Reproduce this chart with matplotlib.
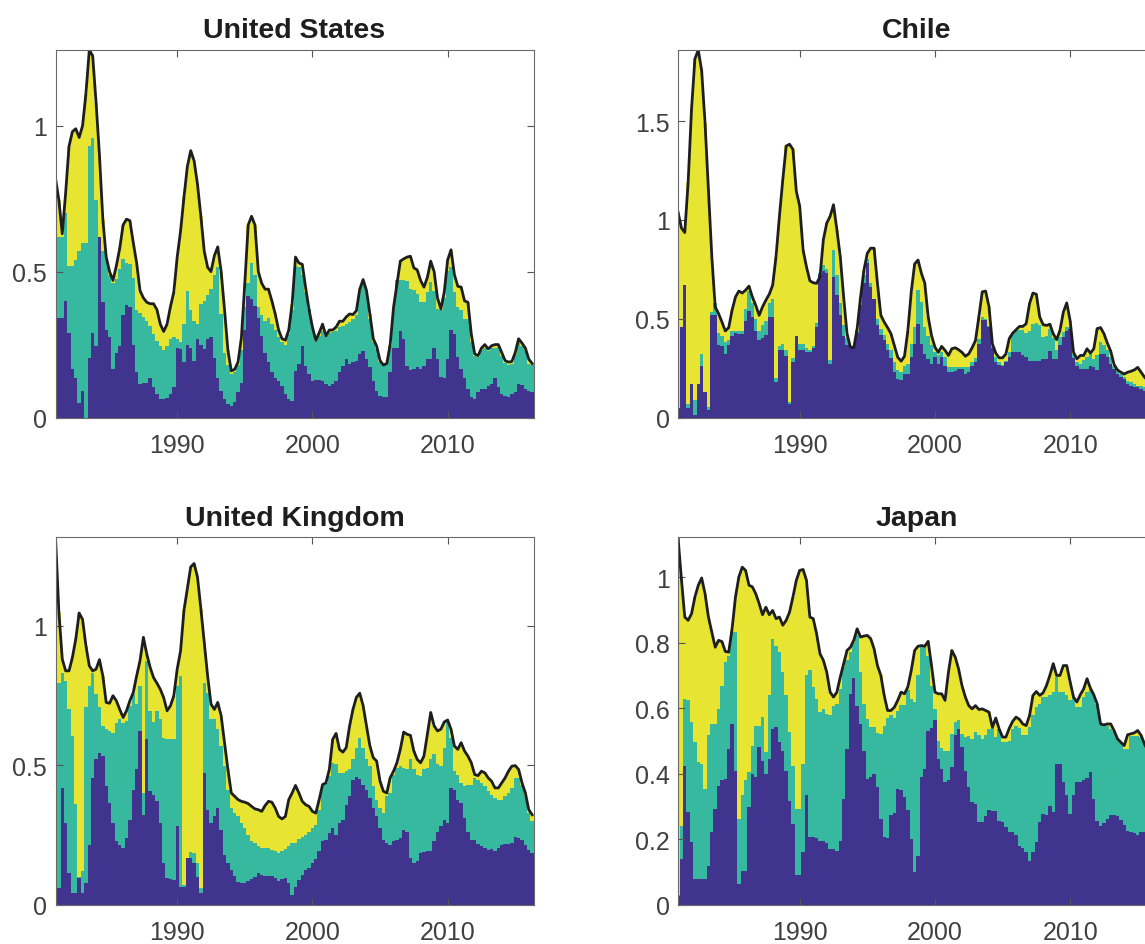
import numpy as np
import matplotlib

matplotlib.use("Agg")
import matplotlib.pyplot as plt  # noqa: E402

plt.rcParams["font.family"] = ["Liberation Sans", "DejaVu Sans"]

# quarterly observations, 1981Q1 .. 2016Q2
dates = 1981.0 + 0.25 * np.arange(142)

# cumulative levels: top of dark layer, top of teal layer, total (black line)
us_blue = [
    0.15, 0.34, 0.34, 0.40, 0.29, 0.166, 0.137, 0.05, 0.09, 0.0,
    0.205, 0.29, 0.245, 0.62, 0.395, 0.30, 0.275, 0.166, 0.22, 0.245,
    0.35, 0.385, 0.38, 0.25, 0.155, 0.115, 0.117, 0.12, 0.135, 0.103,
    0.082, 0.063, 0.063, 0.066, 0.082, 0.103, 0.24, 0.235, 0.19, 0.25,
    0.24, 0.195, 0.27, 0.25, 0.235, 0.27, 0.275, 0.205, 0.137, 0.092,
    0.063, 0.048, 0.04, 0.052, 0.086, 0.12, 0.30, 0.415, 0.407, 0.384,
    0.34, 0.28, 0.22, 0.19, 0.155, 0.137, 0.126, 0.109, 0.082, 0.063,
    0.057, 0.16, 0.183, 0.246, 0.178, 0.15, 0.124, 0.128, 0.128, 0.126,
    0.115, 0.109, 0.115, 0.126, 0.155, 0.178, 0.2, 0.183, 0.19, 0.195,
    0.218, 0.227, 0.2, 0.172, 0.126, 0.092, 0.074, 0.069, 0.07, 0.155,
    0.238, 0.238, 0.298, 0.27, 0.178, 0.163, 0.166, 0.174, 0.166, 0.178,
    0.2, 0.2, 0.24, 0.2, 0.14, 0.134, 0.2, 0.30, 0.286, 0.206,
    0.166, 0.137, 0.097, 0.069, 0.063, 0.086, 0.097, 0.097, 0.109, 0.115,
    0.137, 0.103, 0.08, 0.074, 0.071, 0.082, 0.086, 0.115, 0.113, 0.097,
    0.092, 0.086,
]
us_teal = [
    0.63, 0.62, 0.62, 0.70, 0.52, 0.52, 0.54, 0.57, 0.60, 0.60,
    0.93, 0.96, 0.745, 0.62, 0.57, 0.54, 0.49, 0.46, 0.475, 0.51,
    0.545, 0.53, 0.527, 0.48, 0.37, 0.36, 0.345, 0.33, 0.315, 0.285,
    0.263, 0.245, 0.23, 0.245, 0.27, 0.277, 0.27, 0.258, 0.32, 0.435,
    0.367, 0.33, 0.32, 0.39, 0.40, 0.42, 0.44, 0.49, 0.515, 0.355,
    0.22, 0.18, 0.15, 0.155, 0.18, 0.23, 0.38, 0.46, 0.53, 0.49,
    0.38, 0.35, 0.33, 0.34, 0.32, 0.30, 0.275, 0.258, 0.25, 0.286,
    0.37, 0.52, 0.515, 0.49, 0.43, 0.372, 0.31, 0.263, 0.28, 0.295,
    0.28, 0.29, 0.294, 0.298, 0.31, 0.315, 0.32, 0.326, 0.338, 0.35,
    0.43, 0.464, 0.43, 0.338, 0.258, 0.235, 0.19, 0.178, 0.18, 0.246,
    0.372, 0.47, 0.473, 0.47, 0.467, 0.44, 0.438, 0.424, 0.395, 0.395,
    0.43, 0.464, 0.435, 0.372, 0.367, 0.41, 0.504, 0.515, 0.43, 0.378,
    0.367, 0.338, 0.338, 0.258, 0.21, 0.206, 0.233, 0.238, 0.227, 0.24,
    0.24, 0.243, 0.212, 0.187, 0.18, 0.185, 0.218, 0.263, 0.246, 0.23,
    0.183, 0.18,
]
us_total = [
    0.82, 0.745, 0.63, 0.77, 0.93, 0.98, 0.99, 0.96, 1.0, 1.11,
    1.26, 1.24, 1.08, 0.90, 0.68, 0.55, 0.50, 0.47, 0.52, 0.58,
    0.66, 0.68, 0.675, 0.60, 0.53, 0.435, 0.41, 0.395, 0.39, 0.39,
    0.37, 0.32, 0.295, 0.32, 0.38, 0.43, 0.55, 0.64, 0.755, 0.86,
    0.915, 0.88, 0.80, 0.69, 0.57, 0.515, 0.50, 0.555, 0.585, 0.50,
    0.37, 0.23, 0.16, 0.165, 0.19, 0.275, 0.46, 0.66, 0.69, 0.66,
    0.50, 0.46, 0.44, 0.44, 0.40, 0.355, 0.30, 0.27, 0.265, 0.30,
    0.39, 0.55, 0.53, 0.525, 0.445, 0.37, 0.31, 0.265, 0.29, 0.32,
    0.28, 0.30, 0.30, 0.31, 0.33, 0.33, 0.345, 0.355, 0.353, 0.366,
    0.44, 0.473, 0.435, 0.355, 0.27, 0.245, 0.195, 0.18, 0.185, 0.25,
    0.378, 0.458, 0.536, 0.544, 0.55, 0.553, 0.513, 0.506, 0.47, 0.447,
    0.48, 0.536, 0.50, 0.41, 0.372, 0.43, 0.54, 0.575, 0.49, 0.45,
    0.447, 0.40, 0.395, 0.286, 0.218, 0.212, 0.238, 0.25, 0.235, 0.246,
    0.25, 0.25, 0.223, 0.195, 0.19, 0.192, 0.223, 0.27, 0.255, 0.238,
    0.20, 0.185,
]

chile_blue = [
    0.05, 0.46, 0.67, 0.05, 0.17, 0.015, 0.17, 0.26, 0.13, 0.04,
    0.52, 0.52, 0.365, 0.36, 0.32, 0.365, 0.41, 0.43, 0.425, 0.425,
    0.49, 0.54, 0.51, 0.44, 0.39, 0.40, 0.42, 0.51, 0.51, 0.18,
    0.34, 0.34, 0.31, 0.07, 0.28, 0.41, 0.34, 0.34, 0.33, 0.33,
    0.35, 0.46, 0.72, 0.74, 0.73, 0.27, 0.71, 0.62, 0.52, 0.415,
    0.365, 0.35, 0.35, 0.43, 0.57, 0.68, 0.78, 0.66, 0.60, 0.47,
    0.42, 0.39, 0.34, 0.30, 0.23, 0.195, 0.19, 0.22, 0.22, 0.305,
    0.373, 0.475, 0.373, 0.322, 0.297, 0.27, 0.305, 0.27, 0.305, 0.263,
    0.229, 0.229, 0.237, 0.246, 0.246, 0.22, 0.229, 0.263, 0.28, 0.373,
    0.495, 0.495, 0.458, 0.35, 0.28, 0.268, 0.263, 0.28, 0.305, 0.33,
    0.33, 0.33, 0.314, 0.305, 0.285, 0.285, 0.288, 0.288, 0.297, 0.297,
    0.339, 0.297, 0.297, 0.365, 0.407, 0.44, 0.45, 0.30, 0.263, 0.246,
    0.246, 0.246, 0.263, 0.254, 0.24, 0.322, 0.322, 0.305, 0.271, 0.246,
    0.22, 0.204, 0.195, 0.17, 0.161, 0.153, 0.153, 0.144, 0.136, 0.127,
    0.12, 0.115,
]
chile_teal = [
    0.05, 0.46, 0.67, 0.07, 0.17, 0.09, 0.17, 0.32, 0.13, 0.055,
    0.535, 0.58, 0.43, 0.415, 0.38, 0.39, 0.44, 0.44, 0.44, 0.44,
    0.55, 0.64, 0.58, 0.50, 0.44, 0.47, 0.49, 0.58, 0.60, 0.20,
    0.36, 0.37, 0.34, 0.08, 0.30, 0.41, 0.37, 0.37, 0.35, 0.34,
    0.36, 0.48, 0.73, 0.77, 0.75, 0.29, 0.85, 0.72, 0.58, 0.47,
    0.40, 0.35, 0.35, 0.44, 0.60, 0.72, 0.80, 0.68, 0.60, 0.50,
    0.45, 0.42, 0.37, 0.34, 0.28, 0.24, 0.23, 0.26, 0.27, 0.373,
    0.458, 0.645, 0.585, 0.458, 0.415, 0.365, 0.33, 0.314, 0.33, 0.305,
    0.254, 0.254, 0.254, 0.254, 0.254, 0.254, 0.254, 0.28, 0.30, 0.398,
    0.51, 0.50, 0.465, 0.36, 0.305, 0.28, 0.268, 0.288, 0.33, 0.424,
    0.441, 0.441, 0.441, 0.428, 0.438, 0.475, 0.478, 0.466, 0.407, 0.415,
    0.45, 0.40, 0.34, 0.407, 0.432, 0.458, 0.458, 0.32, 0.28, 0.271,
    0.292, 0.305, 0.32, 0.297, 0.314, 0.382, 0.365, 0.34, 0.305, 0.26,
    0.235, 0.22, 0.204, 0.187, 0.178, 0.17, 0.161, 0.161, 0.153, 0.136,
    0.13, 0.125,
]
chile_total = [
    1.04, 0.96, 0.936, 1.19, 1.56, 1.815, 1.86, 1.755, 1.49, 1.155,
    0.815, 0.56, 0.526, 0.483, 0.438, 0.455, 0.543, 0.61, 0.64, 0.63,
    0.645, 0.665, 0.61, 0.568, 0.517, 0.56, 0.594, 0.624, 0.67, 0.814,
    1.018, 1.204, 1.374, 1.383, 1.357, 1.145, 1.07, 0.848, 0.763, 0.692,
    0.682, 0.679, 0.712, 0.90, 0.984, 1.018, 1.077, 0.95, 0.814, 0.61,
    0.424, 0.356, 0.353, 0.45, 0.61, 0.746, 0.831, 0.857, 0.857, 0.679,
    0.517, 0.483, 0.455, 0.424, 0.365, 0.305, 0.285, 0.31, 0.44, 0.636,
    0.777, 0.797, 0.73, 0.68, 0.51, 0.415, 0.356, 0.33, 0.36, 0.34,
    0.314, 0.348, 0.353, 0.343, 0.33, 0.31, 0.322, 0.353, 0.39, 0.51,
    0.636, 0.64, 0.56, 0.373, 0.326, 0.302, 0.302, 0.322, 0.40, 0.427,
    0.444, 0.461, 0.461, 0.475, 0.577, 0.63, 0.624, 0.509, 0.47, 0.466,
    0.472, 0.424, 0.394, 0.441, 0.534, 0.58, 0.49, 0.33, 0.297, 0.314,
    0.314, 0.348, 0.326, 0.348, 0.45, 0.455, 0.424, 0.377, 0.336, 0.268,
    0.241, 0.229, 0.22, 0.229, 0.234, 0.241, 0.254, 0.229, 0.204, 0.187,
    0.18, 0.175,
]

uk_blue = [
    0.108, 0.06, 0.42, 0.293, 0.114, 0.042, 0.042, 0.096, 0.042, 0.078,
    0.216, 0.455, 0.521, 0.545, 0.533, 0.425, 0.365, 0.293, 0.228, 0.216,
    0.204, 0.24, 0.305, 0.413, 0.485, 0.623, 0.323, 0.593, 0.407, 0.395,
    0.371, 0.293, 0.15, 0.096, 0.093, 0.09, 0.281, 0.066, 0.066, 0.168,
    0.168, 0.15, 0.10, 0.042, 0.473, 0.341, 0.293, 0.317, 0.347, 0.269,
    0.18, 0.15, 0.126, 0.102, 0.084, 0.078, 0.08, 0.087, 0.092, 0.10,
    0.114, 0.108, 0.102, 0.102, 0.102, 0.096, 0.087, 0.092, 0.096, 0.078,
    0.036, 0.066, 0.09, 0.108, 0.126, 0.132, 0.15, 0.164, 0.192, 0.228,
    0.234, 0.257, 0.275, 0.251, 0.293, 0.305, 0.359, 0.389, 0.449, 0.459,
    0.451, 0.431, 0.413, 0.383, 0.347, 0.317, 0.275, 0.234, 0.222, 0.216,
    0.228, 0.234, 0.24, 0.269, 0.263, 0.168, 0.15, 0.156, 0.186, 0.19,
    0.192, 0.192, 0.228, 0.263, 0.281, 0.305, 0.293, 0.419, 0.413, 0.377,
    0.365, 0.311, 0.263, 0.234, 0.232, 0.219, 0.21, 0.204, 0.198, 0.2,
    0.195, 0.204, 0.216, 0.22, 0.218, 0.222, 0.243, 0.24, 0.234, 0.216,
    0.198, 0.186,
]
uk_teal = [
    0.14, 0.796, 0.832, 0.80, 0.70, 0.605, 0.36, 0.10, 0.12, 0.707,
    0.784, 0.832, 0.754, 0.707, 0.64, 0.629, 0.623, 0.614, 0.653, 0.665,
    0.653, 0.66, 0.713, 0.754, 0.72, 0.784, 0.40, 0.874, 0.695, 0.655,
    0.695, 0.665, 0.599, 0.593, 0.593, 0.593, 0.784, 0.82, 0.072, 0.168,
    0.19, 0.186, 0.15, 0.06, 0.796, 0.76, 0.665, 0.665, 0.629, 0.569,
    0.497, 0.413, 0.347, 0.329, 0.317, 0.293, 0.275, 0.251, 0.228, 0.222,
    0.21, 0.204, 0.204, 0.204, 0.198, 0.192, 0.186, 0.192, 0.20, 0.21,
    0.222, 0.222, 0.236, 0.245, 0.251, 0.263, 0.275, 0.287, 0.341, 0.431,
    0.437, 0.461, 0.509, 0.503, 0.473, 0.473, 0.479, 0.485, 0.521, 0.563,
    0.599, 0.563, 0.521, 0.497, 0.425, 0.377, 0.347, 0.33, 0.39, 0.40,
    0.467, 0.491, 0.497, 0.491, 0.485, 0.521, 0.485, 0.467, 0.461, 0.485,
    0.491, 0.521, 0.539, 0.503, 0.497, 0.563, 0.659, 0.599, 0.479, 0.467,
    0.437, 0.425, 0.43, 0.43, 0.455, 0.449, 0.437, 0.425, 0.407, 0.395,
    0.383, 0.375, 0.377, 0.389, 0.401, 0.419, 0.455, 0.455, 0.43, 0.389,
    0.33, 0.30,
]
uk_total = [
    1.317, 1.048, 0.88, 0.838, 0.838, 0.886, 0.952, 1.045, 1.022, 0.928,
    0.856, 0.838, 0.844, 0.878, 0.82, 0.725, 0.722, 0.749, 0.731, 0.70,
    0.671, 0.695, 0.731, 0.76, 0.82, 0.874, 0.958, 0.898, 0.85, 0.814,
    0.794, 0.772, 0.742, 0.695, 0.713, 0.749, 0.844, 0.91, 1.054, 1.132,
    1.21, 1.222, 1.174, 1.06, 0.94, 0.82, 0.719, 0.70, 0.725, 0.677,
    0.581, 0.485, 0.401, 0.389, 0.377, 0.371, 0.368, 0.363, 0.353, 0.344,
    0.341, 0.335, 0.356, 0.371, 0.368, 0.347, 0.317, 0.308, 0.317, 0.377,
    0.401, 0.428, 0.401, 0.371, 0.359, 0.353, 0.335, 0.329, 0.377, 0.431,
    0.437, 0.485, 0.593, 0.614, 0.557, 0.547, 0.563, 0.641, 0.70, 0.743,
    0.758, 0.713, 0.641, 0.569, 0.527, 0.515, 0.443, 0.407, 0.401, 0.455,
    0.479, 0.509, 0.557, 0.619, 0.611, 0.607, 0.551, 0.521, 0.509, 0.533,
    0.611, 0.689, 0.641, 0.623, 0.629, 0.655, 0.662, 0.629, 0.569, 0.557,
    0.581, 0.551, 0.533, 0.509, 0.467, 0.463, 0.479, 0.473, 0.455, 0.443,
    0.419, 0.419, 0.437, 0.455, 0.479, 0.497, 0.499, 0.485, 0.437, 0.401,
    0.341, 0.323,
]

japan_blue = [
    0.028, 0.14, 0.425, 0.283, 0.191, 0.08, 0.08, 0.08, 0.08, 0.12,
    0.222, 0.293, 0.364, 0.38, 0.385, 0.476, 0.552, 0.41, 0.064, 0.105,
    0.105, 0.298, 0.40, 0.39, 0.481, 0.44, 0.40, 0.446, 0.537, 0.542,
    0.496, 0.471, 0.41, 0.318, 0.247, 0.09, 0.09, 0.161, 0.334, 0.207,
    0.207, 0.205, 0.196, 0.194, 0.19, 0.171, 0.171, 0.166, 0.196, 0.323,
    0.476, 0.644, 0.692, 0.608, 0.552, 0.47, 0.385, 0.39, 0.40, 0.359,
    0.262, 0.207, 0.205, 0.273, 0.28, 0.354, 0.35, 0.329, 0.29, 0.201,
    0.10, 0.15, 0.39, 0.415, 0.532, 0.539, 0.563, 0.446, 0.415, 0.374,
    0.38, 0.42, 0.517, 0.537, 0.481, 0.41, 0.359, 0.313, 0.308, 0.252,
    0.252, 0.271, 0.29, 0.288, 0.288, 0.257, 0.252, 0.237, 0.224, 0.222,
    0.212, 0.181, 0.173, 0.161, 0.135, 0.161, 0.191, 0.252, 0.278, 0.275,
    0.301, 0.285, 0.43, 0.43, 0.374, 0.334, 0.278, 0.334, 0.374, 0.374,
    0.38, 0.387, 0.405, 0.323, 0.257, 0.242, 0.25, 0.262, 0.273, 0.275,
    0.27, 0.26, 0.244, 0.227, 0.222, 0.22, 0.214, 0.222, 0.224, 0.216,
    0.215, 0.21,
]
japan_teal = [
    0.03, 0.242, 0.629, 0.624, 0.557, 0.496, 0.435, 0.43, 0.354, 0.517,
    0.552, 0.552, 0.598, 0.669, 0.74, 0.76, 0.832, 0.832, 0.262, 0.334,
    0.38, 0.405, 0.486, 0.547, 0.547, 0.573, 0.466, 0.639, 0.812, 0.79,
    0.771, 0.71, 0.639, 0.527, 0.425, 0.293, 0.293, 0.43, 0.70, 0.715,
    0.664, 0.629, 0.588, 0.598, 0.583, 0.578, 0.608, 0.613, 0.659, 0.725,
    0.746, 0.77, 0.80, 0.822, 0.71, 0.613, 0.568, 0.542, 0.542, 0.525,
    0.522, 0.547, 0.57, 0.58, 0.57, 0.59, 0.61, 0.61, 0.654, 0.629,
    0.619, 0.70, 0.786, 0.786, 0.76, 0.669, 0.598, 0.50, 0.48, 0.47,
    0.47, 0.52, 0.557, 0.563, 0.522, 0.512, 0.515, 0.507, 0.527, 0.517,
    0.507, 0.519, 0.537, 0.542, 0.512, 0.537, 0.496, 0.496, 0.50, 0.537,
    0.547, 0.54, 0.519, 0.517, 0.542, 0.578, 0.603, 0.613, 0.634, 0.634,
    0.639, 0.649, 0.695, 0.649, 0.649, 0.639, 0.624, 0.63, 0.603, 0.603,
    0.634, 0.649, 0.66, 0.641, 0.613, 0.55, 0.545, 0.545, 0.537, 0.532,
    0.507, 0.496, 0.476, 0.476, 0.515, 0.515, 0.515, 0.512, 0.491, 0.47,
    0.455, 0.445,
]
japan_total = [
    1.122, 0.995, 0.878, 0.868, 0.888, 0.939, 0.975, 0.997, 0.949, 0.878,
    0.832, 0.786, 0.807, 0.803, 0.773, 0.771, 0.842, 0.939, 1.0, 1.03,
    1.02, 0.975, 0.97, 0.949, 0.919, 0.885, 0.908, 0.885, 0.898, 0.873,
    0.878, 0.853, 0.868, 0.893, 0.939, 0.99, 1.02, 1.023, 0.99, 0.878,
    0.873, 0.827, 0.766, 0.746, 0.71, 0.649, 0.634, 0.649, 0.695, 0.736,
    0.776, 0.786, 0.807, 0.842, 0.817, 0.82, 0.822, 0.812, 0.781, 0.73,
    0.70, 0.639, 0.593, 0.593, 0.603, 0.624, 0.649, 0.644, 0.665, 0.715,
    0.776, 0.789, 0.791, 0.789, 0.804, 0.73, 0.649, 0.644, 0.644, 0.624,
    0.71, 0.776, 0.756, 0.72, 0.669, 0.634, 0.608, 0.598, 0.608, 0.596,
    0.598, 0.593, 0.588, 0.542, 0.57, 0.537, 0.512, 0.512, 0.539, 0.56,
    0.573, 0.566, 0.552, 0.547, 0.578, 0.639, 0.651, 0.639, 0.647, 0.669,
    0.70, 0.736, 0.70, 0.70, 0.73, 0.73, 0.68, 0.634, 0.619, 0.641,
    0.659, 0.69, 0.661, 0.641, 0.613, 0.552, 0.549, 0.552, 0.552, 0.532,
    0.507, 0.496, 0.486, 0.519, 0.522, 0.525, 0.532, 0.517, 0.491, 0.47,
    0.46, 0.45,
]

COL_BLUE = "#40348f"
COL_TEAL = "#36b99f"
COL_YELLOW = "#e7e532"
TEXT = "#404040"

panels = [
    ("United States", us_blue, us_teal, us_total, [0, 0.5, 1], [55.5, 51, 418.5]),
    ("Chile", chile_blue, chile_teal, chile_total, [0, 0.5, 1, 1.5], [678, 51, 418.5]),
    ("United Kingdom", uk_blue, uk_teal, uk_total, [0, 0.5, 1], [55.5, 538, 906]),
    ("Japan", japan_blue, japan_teal, japan_total, [0, 0.2, 0.4, 0.6, 0.8, 1], [678, 538, 906]),
]

W, H = 1145, 945
fig = plt.figure(figsize=(W / 100, H / 100), dpi=100)

for title, blue, teal, total, yticks, (px_left, px_top, px_bot) in panels:
    ax = fig.add_axes([px_left / W, 1 - px_bot / H, 478 / W, (px_bot - px_top) / H])
    blue = np.array(blue)
    teal = np.maximum(np.array(teal), blue)
    total = np.array(total)

    layers = [
        (blue, np.zeros_like(blue), COL_BLUE),
        (teal - blue, blue, COL_TEAL),
        (np.clip(total - teal, 0, None), teal, COL_YELLOW),
    ]
    for height, bottom, col in layers:
        ax.bar(dates, height, width=0.25, bottom=bottom, color=col,
               linewidth=0, antialiased=False)
    ax.plot(dates, total, color="#1e1e1e", lw=2.0, solid_joinstyle="round")

    ax.set_xlim(dates[0], dates[-1] + 0.1)
    ax.set_ylim(0, total.max())
    ax.set_xticks([1990, 2000, 2010])
    ax.set_yticks(yticks)
    ax.set_yticklabels([f"{v:g}" for v in yticks])
    ax.tick_params(direction="in", length=5, width=0.8, color="#555555",
                   top=True, right=True, labelsize=18, labelcolor=TEXT)
    ax.tick_params(axis="x", pad=11)
    ax.tick_params(axis="y", pad=6)
    for s in ax.spines.values():
        s.set_color("#6a6a6a")
        s.set_linewidth(0.8)
    ax.set_title(title, fontsize=20.5, fontweight="bold", color="#1e1e1e", pad=9)

fig.savefig("out.png", dpi=100)
